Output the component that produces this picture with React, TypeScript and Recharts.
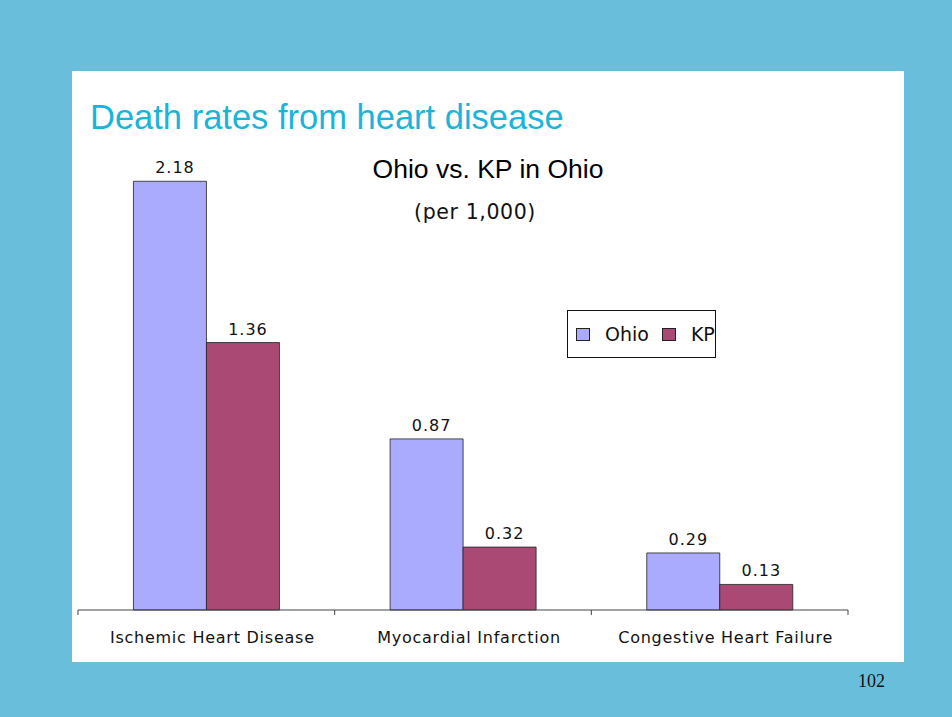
import { BarChart, Bar, XAxis, YAxis, LabelList } from 'recharts';

const categories = ['Ischemic Heart Disease', 'Myocardial Infarction', 'Congestive Heart Failure'];
const ohio = [2.18, 0.87, 0.29];
const kp = [1.36, 0.32, 0.13];
const seriesNames = ['Ohio', 'KP'];

const OHIO_COLOR = '#AAAAFF';
const KP_COLOR = '#AA4A74';
const PAGE_BG = '#69BFDB';

const data = categories.map((name, i) => ({ name, Ohio: ohio[i], KP: kp[i] }));

const TICK_MARGIN = 20;

const CategoryTick = (props: any) => {
  const { x, y, payload, index, visibleTicksCount } = props;
  const half = payload?.offset ?? 128.3;
  const axisY = y - TICK_MARGIN;
  const last = index === (visibleTicksCount ?? categories.length) - 1;
  return (
    <g>
      <line x1={x - half} x2={x - half} y1={axisY} y2={axisY + 5} stroke="#444" />
      {last && <line x1={x + half} x2={x + half} y1={axisY} y2={axisY + 5} stroke="#444" />}
      <text
        x={x + 6}
        y={axisY + 33}
        textAnchor="middle"
        fontFamily="DejaVu Sans"
        fontSize={16}
        letterSpacing={0.75}
        fill="#111"
      >
        {payload.value}
      </text>
    </g>
  );
};

const ValueLabel = (props: any) => {
  const { x, y, width, value } = props;
  return (
    <text
      x={x + width / 2 + 5}
      y={y - 8}
      textAnchor="middle"
      fontFamily="DejaVu Sans"
      fontSize={16}
      letterSpacing={1}
      fill="#111"
    >
      {Number(value).toFixed(2)}
    </text>
  );
};

const LegendBox = () => {
  const colors = [OHIO_COLOR, KP_COLOR];
  return (
    <div
      style={{
        position: 'absolute',
        left: 567,
        top: 310,
        width: 149,
        height: 48,
        boxSizing: 'border-box',
        border: '1px solid #111',
        background: '#fff',
        display: 'flex',
        alignItems: 'center',
        paddingLeft: 8,
        fontFamily: 'DejaVu Sans',
        fontSize: 19,
        color: '#111',
        whiteSpace: 'nowrap',
      }}
    >
      {seriesNames.map((s, i) => (
        <span key={s} style={{ display: 'flex', alignItems: 'center', marginRight: i === 0 ? 13 : 0 }}>
          <span
            style={{
              display: 'inline-block',
              width: 14,
              height: 13,
              background: colors[i],
              border: '1px solid #222',
              boxSizing: 'border-box',
              marginRight: 15,
            }}
          />
          {s}
        </span>
      ))}
    </div>
  );
};

export default function App() {
  return (
    <div style={{ position: 'absolute', left: 0, top: 0, width: 952, height: 717, background: PAGE_BG, overflow: 'hidden' }}>
      <div style={{ position: 'absolute', left: 72, top: 71, width: 832, height: 591, background: '#fff' }} />
      <div
        style={{
          position: 'absolute',
          left: 90,
          top: 97,
          fontFamily: 'Liberation Sans, Arial, sans-serif',
          fontSize: 34.5,
          color: '#1AB4DA',
          whiteSpace: 'nowrap',
          lineHeight: '40px',
        }}
      >
        Death rates from heart disease
      </div>
      <div
        style={{
          position: 'absolute',
          left: 288,
          width: 400,
          top: 153,
          textAlign: 'center',
          fontFamily: 'Liberation Sans, Arial, sans-serif',
          fontSize: 26.5,
          color: '#000',
          lineHeight: '32px',
        }}
      >
        Ohio vs. KP in Ohio
      </div>
      <div
        style={{
          position: 'absolute',
          left: 275,
          width: 400,
          top: 198,
          textAlign: 'center',
          fontFamily: 'DejaVu Sans',
          fontSize: 20.5,
          letterSpacing: 0.6,
          color: '#111',
          lineHeight: '28px',
        }}
      >
        (per 1,000)
      </div>
      <div
        style={{
          position: 'absolute',
          left: 858,
          top: 670,
          fontFamily: 'Liberation Serif, serif',
          fontSize: 18,
          color: '#111',
          lineHeight: '22px',
        }}
      >
        102
      </div>
      <div style={{ position: 'absolute', left: 0, top: 0 }}>
        <BarChart
          width={952}
          height={717}
          data={data}
          margin={{ top: 138, right: 104, bottom: 77, left: 78 }}
          barCategoryGap="21.6%"
          barGap={0}
        >
          <XAxis
            dataKey="name"
            height={30}
            axisLine={{ stroke: '#444' }}
            tickLine={false}
            tickSize={0}
            tickMargin={TICK_MARGIN}
            tick={<CategoryTick />}
            interval={0}
          />
          <YAxis hide domain={[0, 2.4]} />
          <Bar dataKey="Ohio" fill={OHIO_COLOR} stroke="#222" strokeWidth={0.8} isAnimationActive={false}>
            <LabelList dataKey="Ohio" content={<ValueLabel />} />
          </Bar>
          <Bar dataKey="KP" fill={KP_COLOR} stroke="#222" strokeWidth={0.8} isAnimationActive={false}>
            <LabelList dataKey="KP" content={<ValueLabel />} />
          </Bar>
        </BarChart>
      </div>
      <LegendBox />
    </div>
  );
}
